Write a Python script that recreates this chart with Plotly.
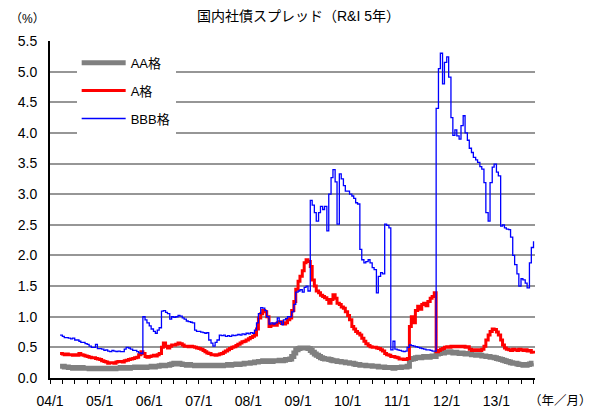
import pandas as pd
import plotly.graph_objects as go

# Semi-monthly observation dates (1st and 15th), Mar 2004 - Oct 2013
dates = pd.date_range("2004-03-15", "2013-10-01", freq="SMS")

# Spread (%) of R&I 5-year corporate bonds, by rating
aa = [
    # 2004 (from Mar 15)
    0.19, 0.19, 0.18, 0.18, 0.17, 0.17, 0.16, 0.17, 0.16, 0.16, 0.17, 0.16, 0.16, 0.16, 0.15, 0.16, 0.15, 0.16, 0.15,
    # 2005
    0.15, 0.16, 0.15, 0.16, 0.15, 0.16, 0.16, 0.15, 0.16, 0.16, 0.17, 0.16,
    0.17, 0.17, 0.16, 0.17, 0.17, 0.18, 0.18, 0.17, 0.18, 0.18, 0.17, 0.18,
    # 2006
    0.18, 0.19, 0.18, 0.19, 0.19, 0.20, 0.21, 0.20, 0.21, 0.21, 0.22, 0.23,
    0.24, 0.23, 0.24, 0.23, 0.22, 0.22, 0.21, 0.22, 0.21, 0.21, 0.20, 0.21,
    # 2007
    0.20, 0.21, 0.20, 0.20, 0.21, 0.20, 0.20, 0.21, 0.20, 0.21, 0.21, 0.20,
    0.21, 0.21, 0.22, 0.21, 0.22, 0.22, 0.23, 0.22, 0.23, 0.23, 0.24, 0.24,
    # 2008
    0.24, 0.25, 0.25, 0.26, 0.26, 0.27, 0.27, 0.28, 0.27, 0.28, 0.28, 0.27,
    0.28, 0.28, 0.28, 0.29, 0.28, 0.29, 0.30, 0.30, 0.31, 0.35, 0.41, 0.46,
    # 2009
    0.48, 0.49, 0.49, 0.49, 0.49, 0.48, 0.45, 0.42, 0.39, 0.37, 0.35, 0.33,
    0.32, 0.31, 0.31, 0.30, 0.29, 0.28, 0.28, 0.27, 0.27, 0.26, 0.26, 0.25,
    # 2010
    0.25, 0.24, 0.24, 0.23, 0.22, 0.22, 0.21, 0.21, 0.21, 0.20, 0.20, 0.20,
    0.19, 0.19, 0.19, 0.18, 0.18, 0.18, 0.17, 0.17, 0.17, 0.17, 0.16, 0.17,
    # 2011
    0.17, 0.17, 0.18, 0.18, 0.18, 0.19, 0.30, 0.31, 0.32, 0.33, 0.34, 0.33,
    0.34, 0.35, 0.35, 0.34, 0.35, 0.36, 0.35, 0.39, 0.40, 0.41, 0.41, 0.42,
    # 2012
    0.42, 0.43, 0.42, 0.41, 0.42, 0.41, 0.40, 0.41, 0.40, 0.39, 0.40, 0.39,
    0.38, 0.38, 0.37, 0.38, 0.37, 0.36, 0.36, 0.35, 0.35, 0.34, 0.34, 0.33,
    # 2013 (to Oct 1)
    0.32, 0.31, 0.30, 0.29, 0.28, 0.27, 0.26, 0.25, 0.24, 0.24, 0.23, 0.22,
    0.22, 0.21, 0.21, 0.22, 0.23, 0.24, 0.24,
]

a = [
    # 2004 (from Mar 15)
    0.40, 0.39, 0.38, 0.39, 0.38, 0.38, 0.37, 0.38, 0.37, 0.40, 0.38, 0.37, 0.36, 0.35, 0.34, 0.33, 0.33, 0.32, 0.31,
    # 2005
    0.30, 0.28, 0.27, 0.26, 0.24, 0.25, 0.25, 0.24, 0.26, 0.27, 0.27, 0.26,
    0.28, 0.29, 0.30, 0.31, 0.32, 0.33, 0.34, 0.38, 0.43, 0.40, 0.35, 0.34,
    # 2006
    0.35, 0.36, 0.37, 0.36, 0.38, 0.40, 0.50, 0.57, 0.52, 0.49, 0.52, 0.54,
    0.54, 0.55, 0.57, 0.56, 0.54, 0.52, 0.52, 0.51, 0.52, 0.51, 0.50, 0.49,
    # 2007
    0.48, 0.47, 0.45, 0.43, 0.41, 0.40, 0.38, 0.38, 0.37, 0.38, 0.39, 0.40,
    0.42, 0.44, 0.46, 0.48, 0.50, 0.51, 0.53, 0.55, 0.57, 0.59, 0.60, 0.62,
    # 2008
    0.64, 0.66, 0.68, 0.70, 0.80, 0.98, 1.05, 1.10, 1.08, 1.00, 0.84, 0.86,
    0.88, 0.86, 0.90, 0.92, 0.89, 0.88, 0.90, 0.95, 0.98, 1.10, 1.25, 1.45,
    # 2009
    1.58, 1.66, 1.75, 1.88, 1.93, 1.90, 1.82, 1.60, 1.50, 1.42, 1.39, 1.35,
    1.33, 1.31, 1.28, 1.22, 1.28, 1.36, 1.30, 1.22, 1.20, 1.16, 1.14, 1.08,
    # 2010
    1.02, 0.95, 0.84, 0.80, 0.76, 0.73, 0.70, 0.65, 0.60, 0.56, 0.53, 0.51,
    0.50, 0.50, 0.49, 0.48, 0.46, 0.44, 0.40, 0.38, 0.37, 0.35, 0.35, 0.34,
    # 2011
    0.33, 0.31, 0.31, 0.30, 0.30, 0.32, 0.84, 1.00, 0.90, 1.10, 1.17, 1.12,
    1.20, 1.22, 1.18, 1.25, 1.30, 1.33, 1.39, 0.43, 0.45, 0.47, 0.48, 0.50,
    # 2012
    0.51, 0.50, 0.52, 0.51, 0.52, 0.51, 0.52, 0.51, 0.52, 0.50, 0.51, 0.47,
    0.45, 0.46, 0.45, 0.46, 0.45, 0.47, 0.52, 0.62, 0.70, 0.76, 0.80, 0.79,
    # 2013 (to Oct 1)
    0.75, 0.70, 0.62, 0.54, 0.49, 0.47, 0.46, 0.45, 0.47, 0.46, 0.45, 0.47,
    0.46, 0.45, 0.46, 0.44, 0.45, 0.42, 0.40,
]

bbb = [
    # 2004 (from Mar 15)
    0.70, 0.68, 0.66, 0.66, 0.65, 0.64, 0.65, 0.62, 0.62, 0.60, 0.58, 0.58, 0.56, 0.55, 0.52, 0.50, 0.50, 0.55, 0.48,
    # 2005
    0.48, 0.47, 0.45, 0.46, 0.44, 0.43, 0.45, 0.44, 0.43, 0.44, 0.43, 0.43,
    0.47, 0.50, 0.49, 0.47, 0.45, 0.45, 0.43, 0.41, 0.40, 1.00, 0.95, 0.90,
    # 2006
    0.85, 0.80, 0.76, 0.73, 0.78, 0.82, 1.09, 1.10, 1.07, 1.05, 0.96, 1.00,
    0.99, 1.00, 1.02, 1.01, 0.98, 0.96, 0.93, 0.92, 0.91, 0.90, 0.78, 0.76,
    # 2007
    0.76, 0.75, 0.74, 0.73, 0.74, 0.62, 0.57, 0.52, 0.58, 0.62, 0.70, 0.69,
    0.70, 0.68, 0.69, 0.68, 0.70, 0.69, 0.70, 0.71, 0.70, 0.72, 0.71, 0.73,
    # 2008
    0.72, 0.74, 0.73, 0.78, 0.90, 1.05, 1.15, 1.14, 1.10, 1.00, 0.88, 0.90,
    0.88, 0.90, 0.98, 0.92, 0.87, 0.95, 0.97, 1.00, 1.00, 1.08, 1.20, 1.40,
    # 2009
    1.42, 1.44, 1.40, 1.48, 1.50, 1.42, 2.90, 2.82, 2.70, 2.56, 2.70, 2.80,
    2.75, 2.80, 2.40, 3.00, 3.27, 3.40, 3.20, 2.51, 3.33, 3.25, 3.14, 3.05,
    # 2010
    3.05, 3.00, 2.97, 2.93, 2.86, 2.84, 2.10, 1.93, 1.88, 1.90, 1.93, 1.88,
    1.80, 1.77, 1.39, 1.66, 1.72, 1.70, 2.51, 2.49, 2.45, 0.46, 0.60, 0.47,
    # 2011
    0.46, 0.45, 0.44, 0.43, 0.44, 0.50, 0.54, 0.53, 0.52, 0.51, 0.50, 0.49,
    0.48, 0.47, 0.46, 0.46, 0.45, 0.44, 0.44, 4.40, 5.05, 5.30, 4.80, 5.15,
    # 2012
    5.24, 4.91, 4.25, 3.96, 4.05, 3.95, 3.90, 4.12, 4.28, 4.00, 3.88, 3.75,
    3.68, 3.60, 3.56, 3.52, 3.45, 3.41, 3.19, 2.70, 2.56, 3.19, 3.44, 3.49,
    # 2013 (to Oct 1)
    3.36, 3.30, 2.48, 2.50, 2.45, 2.43, 2.42, 2.30, 2.00, 1.85, 1.70, 1.50,
    1.62, 1.60, 1.55, 1.47, 1.88, 2.13, 2.23,
]

series_names = ["AA格", "A格", "BBB格"]
series_colors = ["#808080", "#FF0000", "#0000FF"]
series_widths = [5, 3, 1.3]
year_ticks = pd.date_range("2004-01-01", "2013-01-01", freq="YS")

FONT = "Liberation Sans, Arial, Noto Sans CJK JP, sans-serif"

fig = go.Figure()
for i, (name, vals) in enumerate(zip(series_names, [aa, a, bbb])):
    fig.add_trace(go.Scatter(
        x=dates[:len(vals)], y=vals, name=name, mode="lines",
        line=dict(color=series_colors[i], width=series_widths[i], shape="hv"),
        legendgroup=name,
    ))

fig.update_layout(
    width=598, height=412,
    margin=dict(l=50, r=63, t=41, b=34, autoexpand=False),
    paper_bgcolor="white", plot_bgcolor="white",
    font=dict(family=FONT, size=14, color="black"),
    showlegend=True,
    legend=dict(
        x=0.055, y=0.98, xanchor="left", yanchor="top",
        bgcolor="white", borderwidth=0,
        font=dict(size=13), tracegroupgap=8, itemwidth=44,
    ),
    xaxis=dict(
        type="date", range=["2004-01-01", "2013-10-12"],
        tickvals=list(year_ticks), tickformat="%y/%-m",
        ticks="outside", ticklen=4, tickwidth=1, tickcolor="black",
        showline=True, linecolor="black", linewidth=2,
        showgrid=False, zeroline=False, automargin=False,
        minor=dict(dtick="M3", tick0="2004-01-01", ticks="outside", ticklen=4, tickcolor="black", showgrid=False),
        ticklabelstandoff=5,
    ),
    yaxis=dict(
        range=[0, 5.5], dtick=0.5, tickformat=".1f",
        showgrid=True, gridcolor="#969696", gridwidth=1.5,
        showline=True, linecolor="black", linewidth=2,
        ticks="", zeroline=False, ticklabelstandoff=8, automargin=False,
    ),
    annotations=[
        dict(text="国内社債スプレッド（R&I 5年）", xref="paper", yref="paper",
             x=0.513, y=1.073, xanchor="center", yanchor="middle",
             showarrow=False, font=dict(size=14)),
        dict(text="（%）", xref="paper", yref="paper",
             x=-0.087, y=1.065, xanchor="left", yanchor="middle",
             showarrow=False, font=dict(size=12)),
        dict(text="（年／月）", xref="paper", yref="paper",
             x=1.122, y=-0.068, xanchor="right", yanchor="middle",
             showarrow=False, font=dict(size=12.5)),
    ],
)

fig.write_html("out.html")
